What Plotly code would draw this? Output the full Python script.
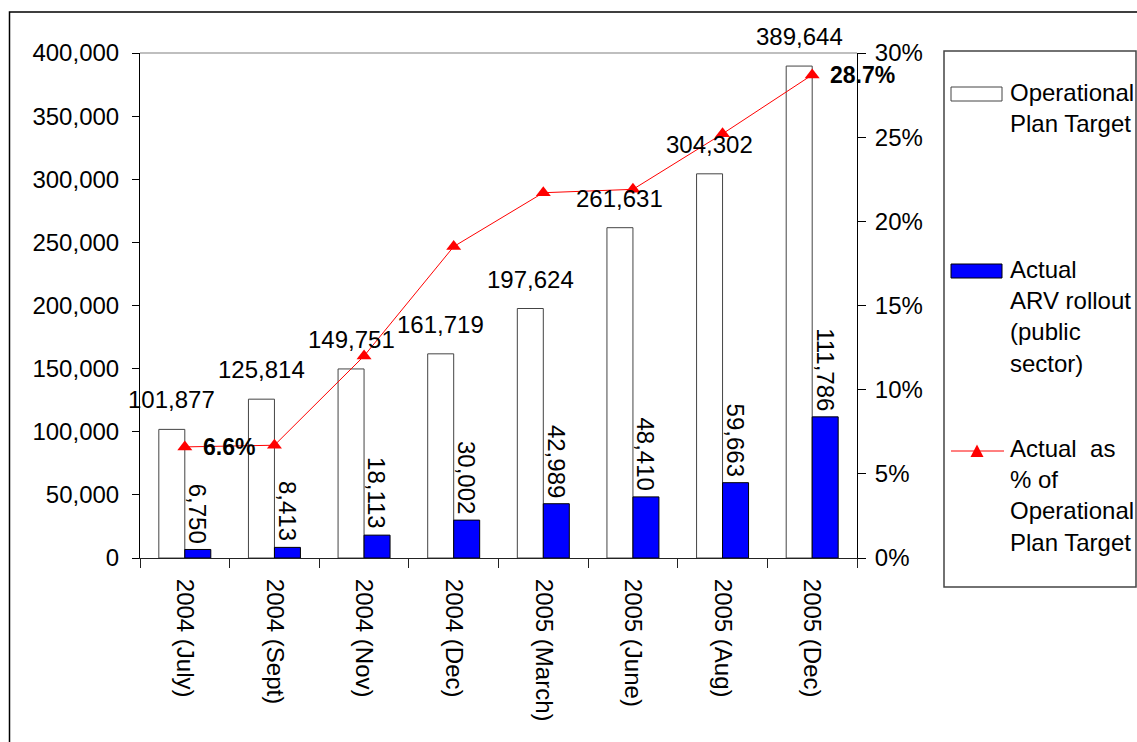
import plotly.graph_objects as go

categories = ["2004 (July)", "2004 (Sept)", "2004 (Nov)", "2004 (Dec)",
              "2005 (March)", "2005 (June)", "2005 (Aug)", "2005 (Dec)"]
target = [101877, 125814, 149751, 161719, 197624, 261631, 304302, 389644]
actual = [6750, 8413, 18113, 30002, 42989, 48410, 59663, 111786]
pct = [6.6, 6.7, 12.0, 18.5, 21.7, 21.9, 25.2, 28.7]
pct_labels = ["6.6%", "", "", "", "", "", "", "28.7%"]
series_names = ["Operational<br>Plan Target",
                "Actual<br>ARV rollout<br>(public<br>sector)",
                "Actual  as<br>% of<br>Operational<br>Plan Target"]
y_ticks = [0, 50000, 100000, 150000, 200000, 250000, 300000, 350000, 400000]
pct_ticks = [0, 5, 10, 15, 20, 25, 30]
pct_ticktext = [f"{v}%" for v in pct_ticks]

OFF = 0  # page body margin (removed by post_script)
W, H = 1137, 742
L, T = 140, 53
PW, PH = 717, 505
R, B = W - L - PW, H - T - PH
FONT = "Arial, 'Liberation Sans', sans-serif"
FS = 24
BARGAP = 0.42


def px_x(px):
    return (px - OFF - L) / PW


def px_y(py):
    return (OFF + T + PH - py) / PH


bar_shift = (1 - BARGAP) / 2 * PW / len(categories) / 2

fig = go.Figure()
fig.add_trace(go.Bar(x=categories, y=target, name="Operational Plan Target",
                     marker=dict(color="white", line=dict(color="#444444", width=1)),
                     showlegend=False))
fig.add_trace(go.Bar(x=categories, y=actual, name="Actual ARV rollout (public sector)",
                     marker=dict(color="#0000FF", line=dict(color="#000000", width=1)),
                     showlegend=False))
fig.add_trace(go.Scatter(x=categories, y=pct, yaxis="y2", mode="lines+markers",
                         name="Actual as % of Operational Plan Target",
                         line=dict(color="#FF0000", width=1),
                         marker=dict(symbol="triangle-up", size=13, color="#FF0000"),
                         showlegend=False))

annotations = []
for c, v in zip(categories, target):
    annotations.append(dict(x=c, y=v, xref="x", yref="y", text=f"{v:,}", showarrow=False,
                            yanchor="bottom", xanchor="center", xshift=-bar_shift, yshift=14,
                            font=dict(size=FS, color="black", family=FONT)))
for c, v in zip(categories, actual):
    annotations.append(dict(x=c, y=v, xref="x", yref="y", text=f"{v:,}", showarrow=False,
                            textangle=90, yanchor="bottom", xanchor="center",
                            xshift=bar_shift, yshift=4,
                            font=dict(size=FS, color="black", family=FONT)))
for c, v, t in zip(categories, pct, pct_labels):
    if t:
        annotations.append(dict(x=c, y=v, xref="x", yref="y2", text=f"<b>{t}</b>",
                                showarrow=False, xanchor="left", yanchor="middle", xshift=16,
                                font=dict(size=FS - 1, color="black", family=FONT)))

# legend (drawn manually)
legend_mid = [108, 316, 495]
for name, ym in zip(series_names, legend_mid):
    annotations.append(dict(x=px_x(1008), y=px_y(ym), xref="paper", yref="paper", text=name,
                            showarrow=False, xanchor="left", yanchor="middle", align="left",
                            font=dict(size=FS, color="black", family=FONT)))

shapes = [
    # outer frame
    dict(type="rect", xref="paper", yref="paper", x0=px_x(9.5), x1=px_x(1160),
         y0=px_y(770), y1=px_y(12), line=dict(color="black", width=1.5)),
    # top plot border
    dict(type="line", xref="paper", yref="paper", x0=0, x1=1, y0=1, y1=1,
         line=dict(color="#AAAAAA", width=1.5)),
    # legend box
    dict(type="rect", xref="paper", yref="paper", x0=px_x(944), x1=px_x(1136),
         y0=px_y(587), y1=px_y(51), line=dict(color="#444444", width=1.5)),
    # swatches
    dict(type="rect", xref="paper", yref="paper", x0=px_x(951), x1=px_x(1002),
         y0=px_y(101), y1=px_y(87), fillcolor="white", line=dict(color="#444444", width=1)),
    dict(type="rect", xref="paper", yref="paper", x0=px_x(951), x1=px_x(1002),
         y0=px_y(278), y1=px_y(264), fillcolor="#0000FF", line=dict(color="#000000", width=1)),
    dict(type="line", xref="paper", yref="paper", x0=px_x(951), x1=px_x(1004),
         y0=px_y(451), y1=px_y(451), line=dict(color="#FF0000", width=1)),
    dict(type="path", xref="paper", yref="paper",
         path=f"M {px_x(970.5)} {px_y(457)} L {px_x(983.5)} {px_y(457)} L {px_x(977)} {px_y(444.5)} Z",
         fillcolor="#FF0000", line=dict(color="#FF0000", width=0)),
]

tickfont = dict(size=FS, color="black", family=FONT)
fig.update_layout(
    width=W, height=H,
    margin=dict(l=L, r=R, t=T, b=B, pad=0),
    paper_bgcolor="white", plot_bgcolor="white",
    barmode="group", bargap=BARGAP, bargroupgap=0,
    showlegend=False,
    font=dict(family=FONT, size=FS, color="black"),
    xaxis=dict(type="category", range=[-0.5, len(categories) - 0.5],
               showline=True, linecolor="#222222", linewidth=1,
               ticks="outside", tickson="boundaries", ticklen=9, tickcolor="#222222",
               tickangle=90, tickfont=tickfont, showgrid=False, zeroline=False,
               ticklabelstandoff=15),
    xaxis2=dict(overlaying="x", anchor="y", range=[-0.5, len(categories) - 0.5],
                tickmode="linear", tick0=-0.5, dtick=1, ticks="inside", ticklen=6,
                tickcolor="#222222", showticklabels=False, showline=False,
                showgrid=False, zeroline=False),
    yaxis=dict(range=[0, 400000], tickvals=y_ticks, tickformat=",", ticks="outside",
               ticklen=7, tickcolor="black", showline=True, linecolor="black",
               linewidth=1, showgrid=False, zeroline=False, tickfont=tickfont,
               ticklabelstandoff=8),
    yaxis2=dict(range=[0, 30], tickvals=pct_ticks, ticktext=pct_ticktext, overlaying="y",
                side="right", ticks="outside", ticklen=8, tickcolor="black",
                showline=True, linecolor="black", linewidth=1, showgrid=False,
                zeroline=False, tickfont=tickfont, ticklabelstandoff=4),
    yaxis3=dict(range=[0, 400000], tickvals=y_ticks, overlaying="y", side="left",
                anchor="x", ticks="inside", ticklen=7, tickcolor="black",
                showticklabels=False, showline=False, showgrid=False, zeroline=False),
    yaxis4=dict(range=[0, 30], tickvals=pct_ticks, overlaying="y", side="right",
                anchor="x", ticks="inside", ticklen=8, tickcolor="black",
                showticklabels=False, showline=False, showgrid=False, zeroline=False),
    annotations=annotations,
    shapes=shapes,
)

fig.write_html("out.html", config={"displayModeBar": False},
               post_script="document.body.style.margin='0';")
